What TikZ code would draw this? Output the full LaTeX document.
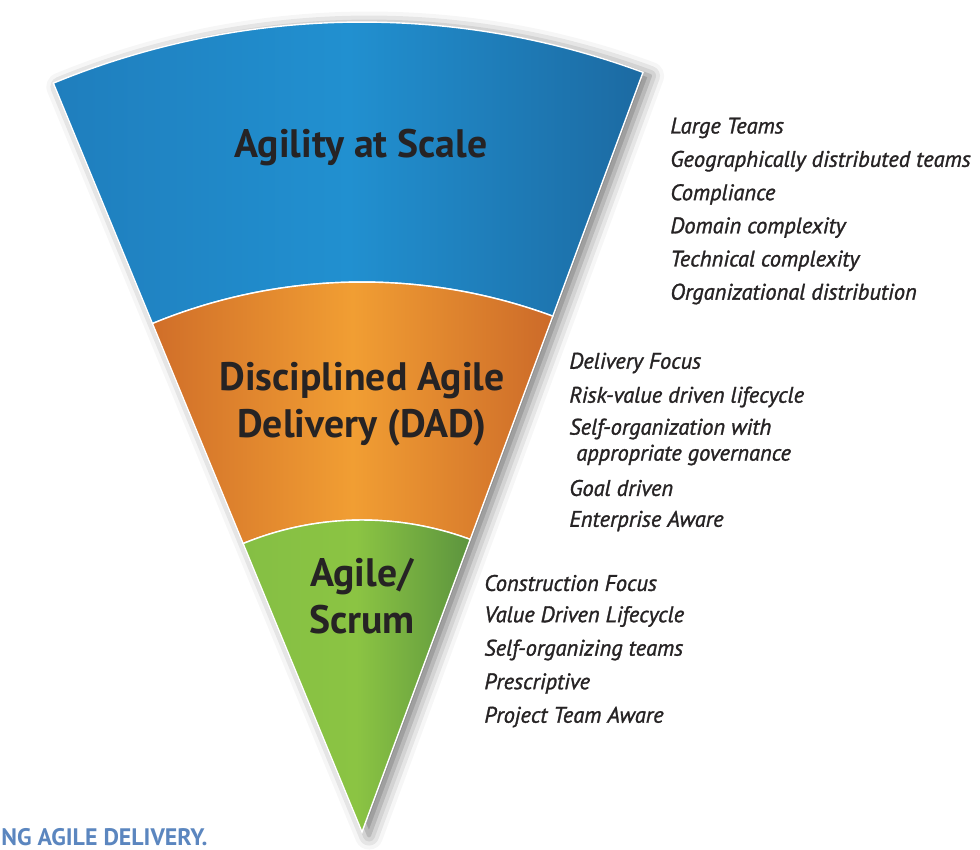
\documentclass[tikz,border=0pt]{standalone}
\usepackage{fontspec}
\setmainfont{PT Sans}
\newfontfamily\featfont{PT Sans Italic}[FakeBold=1.3]
\usetikzlibrary{shadows.blur}
\definecolor{bluL}{HTML}{1F7EBD}
\definecolor{bluM}{HTML}{2190D0}
\definecolor{bluR}{HTML}{1C6AA2}
\definecolor{orgL}{HTML}{D06E29}
\definecolor{orgM}{HTML}{F19E33}
\definecolor{orgR}{HTML}{CC6A29}
\definecolor{grnL}{HTML}{85BF44}
\definecolor{grnM}{HTML}{8BC443}
\definecolor{grnR}{HTML}{5C943E}
\definecolor{ink}{HTML}{262324}
\definecolor{capt}{HTML}{5B86BF}
\tikzset{
  band/.style={draw=white, line width=0.8pt},
  title/.style={font=\bfseries\fontsize{22.6}{27}\selectfont, text=ink, align=center},
  feat/.style={anchor=west, font=\featfont\fontsize{12.8}{15}\selectfont, text=ink, inner sep=0pt},
}
% sector edges (degrees) measured from the apex
\newcommand{\ra}{69.7}
\newcommand{\rb}{112.4}
\newcommand{\band}[5]{
  \path[band, left color=#3, right color=#5, middle color=#4]
    (\ra:#1) -- (\ra:#2) arc[start angle=\ra, end angle=\rb, radius=#2]
    -- (\rb:#1) arc[start angle=\rb, end angle=\ra, radius=#1] -- cycle;
}

\begin{document}
\begin{tikzpicture}[x=0.02cm, y=0.02cm]
  \useasboundingbox (0,0) rectangle (980,-849);
  \coordinate (apex) at (362,-832);

  \begin{scope}[shift={(apex)}]
    % shadow under the whole cone
    \fill[white, blur shadow={shadow xshift=4pt, shadow yshift=-2pt,
      shadow blur radius=8pt, shadow opacity=55}]
      (0,0) -- (\ra:810) arc[start angle=\ra, end angle=\rb, radius=810] -- cycle;
    \band{550}{810}{bluL}{bluM}{bluR}
    \band{312}{550}{orgL}{orgM}{orgR}
    \path[band, left color=grnL, right color=grnR, middle color=grnM]
      (0,0) -- (\ra:312) arc[start angle=\ra, end angle=\rb, radius=312] -- cycle;
  \end{scope}

  % layer titles
  \node[title] (scale) at (361,-148) {Agility at Scale};
  \node[title] (dad) at (362,-404) {Disciplined Agile\\Delivery (DAD)};
  \node[title] (scrum) at (362,-596) {Agile/\\Scrum};

  % what each layer adds
  \foreach \t [count=\i] in {Large Teams, Geographically distributed teams,
      Compliance, Domain complexity, Technical complexity,
      Organizational distribution}
    \node[feat] (sc\i) at (670, {-128-33.2*(\i-1)}) {\t};
  \foreach \x/\y/\t [count=\i] in {569/363/Delivery Focus,
      569/397/Risk-value driven lifecycle, 569/429/Self-organization with,
      576/455/appropriate governance, 569/488/Goal driven,
      569/521/Enterprise Aware}
    \node[feat] (dad\i) at (\x,-\y) {\t};
  \foreach \t [count=\i] in {Construction Focus, Value Driven Lifecycle,
      Self-organizing teams, Prescriptive, Project Team Aware}
    \node[feat] (ag\i) at (484, {-583-33.5*(\i-1)}) {\t};

  % caption fragment
  \node[anchor=base west, inner sep=0pt, text=capt,
    font=\bfseries\fontsize{13.6}{16}\selectfont] (capt) at (1,-845) {NG AGILE DELIVERY.};
\end{tikzpicture}
\end{document}
